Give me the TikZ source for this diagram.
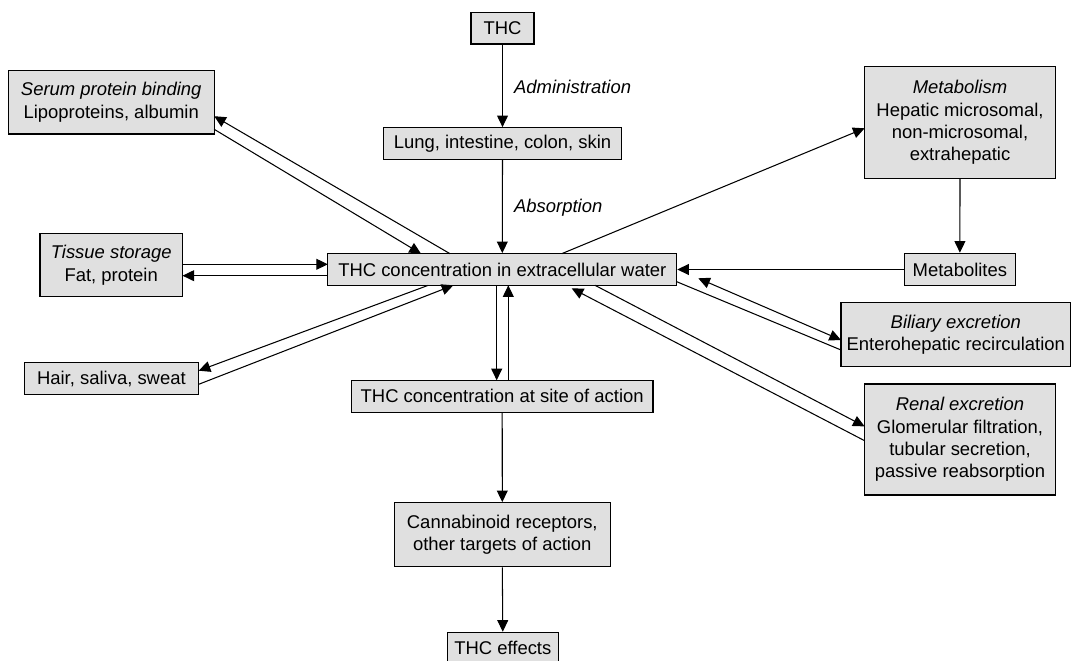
\documentclass[tikz,border=0pt]{standalone}
\usepackage{fontspec}
\setmainfont{Liberation Sans}
\usetikzlibrary{arrows.meta}
\definecolor{boxgray}{gray}{0.88}
\begin{document}
\begin{tikzpicture}[x=0.02cm,y=-0.02cm,
  box/.style={draw=black, line width=0.65pt, fill=boxgray, inner sep=0pt, align=center,
              font=\fontsize{10.5}{12.8}\selectfont},
  wh/.style 2 args={minimum width=#1*0.02cm, minimum height=#2*0.02cm},
  arr/.style={line width=0.6pt, -{Triangle[length=6.6pt,width=6.2pt]}},
  darr/.style={line width=0.6pt, {Triangle[length=6.6pt,width=6.2pt]}-{Triangle[length=6.6pt,width=6.2pt]}},
  plain/.style={line width=0.6pt},
  lbl/.style={font=\fontsize{10.5}{12.8}\selectfont\itshape, anchor=west, inner sep=0pt}]
\useasboundingbox (0,0) rectangle (1072,661);

% nodes
\node[box, wh={63}{31.3}]    (thc)    at (502.5,28.3)  {THC};
\node[box, wh={238.3}{31.6}] (lung)   at (502.5,143.5) {Lung, intestine, colon, skin};
\node[box, wh={348.8}{31.6}] (ecw)    at (502.3,269.5) {THC concentration in extracellular water};
\node[box, wh={205.9}{63.3}] (serum)  at (111.2,102.3) {\textit{Serum protein binding}\\Lipoproteins, albumin};
\node[box, wh={142.5}{63.4}] (tissue) at (111.2,265)   {\textit{Tissue storage}\\Fat, protein};
\node[box, wh={174.6}{32}]   (hair)   at (111.4,378.7) {Hair, saliva, sweat};
\node[box, wh={301.7}{32}]   (site)   at (502.2,396.3) {THC concentration at site of action};
\node[box, wh={215.9}{64}]   (cann)   at (502.3,534.7) {Cannabinoid receptors,\\other targets of action};
\node[box, wh={111}{32}]     (eff)    at (502.8,648.3) {THC effects};
\node[box, wh={190.8}{111.6}] (metab) at (960,122.5)   {\textit{Metabolism}\\Hepatic microsomal,\\non-microsomal,\\extrahepatic};
\node[box, wh={110.9}{32.4}] (mets)   at (959.9,269.5) {Metabolites};
\node[box, wh={229.7}{64}]   (bil)    at (955.8,334.7) {\textit{Biliary excretion}\\Enterohepatic recirculation};
\node[box, wh={190.8}{111}]  (ren)    at (960,439.5)   {\textit{Renal excretion}\\Glomerular filtration,\\tubular secretion,\\passive reabsorption};

\node[lbl] (adm) at (513.8,87.3)  {Administration};
\node[lbl] (abs) at (513.8,207.3) {Absorption};

% connector end points
\coordinate (s1a) at (450,253.7);   \coordinate (s1b) at (214.2,116.2);
\coordinate (s2a) at (214.2,129.3); \coordinate (s2b) at (421,253.7);
\coordinate (t1a) at (182.5,264.3); \coordinate (t1b) at (327.9,264.3);
\coordinate (t2a) at (327.9,275.7); \coordinate (t2b) at (182.5,275.7);
\coordinate (h1a) at (428.3,285.3); \coordinate (h1b) at (198.7,370.7);
\coordinate (h2a) at (198.7,384.3); \coordinate (h2b) at (453.3,285.3);
\coordinate (c1a) at (496.7,285.3); \coordinate (c1b) at (496.7,380.3);
\coordinate (c2a) at (508.3,380.3); \coordinate (c2b) at (508.3,285.3);
\coordinate (m1a) at (561.7,253.7); \coordinate (m1b) at (864.6,128.3);
\coordinate (b1a) at (698.3,278.3); \coordinate (b1b) at (841,340);
\coordinate (b2a) at (676.7,281.7); \coordinate (b2b) at (841,350);
\coordinate (r1a) at (595,285.3);   \coordinate (r1b) at (864.6,426.4);
\coordinate (r2a) at (864.6,440.7); \coordinate (r2b) at (571.7,288.3);

% connectors
\draw[arr] (thc.south) -- (lung.north);
\draw[arr] (lung.south) -- (ecw.north);
\draw[arr] (s1a) -- (s1b);
\draw[arr] (s2a) -- (s2b);
\draw[arr] (t1a) -- (t1b);
\draw[arr] (t2a) -- (t2b);
\draw[arr] (h1a) -- (h1b);
\draw[arr] (h2a) -- (h2b);
\draw[arr] (c1a) -- (c1b);
\draw[arr] (c2a) -- (c2b);
\draw[arr] (site.south) -- (cann.north);
\draw[arr] (cann.south) -- (eff.north);
\draw[arr] (m1a) -- (m1b);
\draw[arr] (metab.south) -- (mets.north);
\draw[arr] (mets.west) -- (ecw.east);
\draw[darr] (b1a) -- (b1b);
\draw[plain] (b2a) -- (b2b);
\draw[arr] (r1a) -- (r1b);
\draw[arr] (r2a) -- (r2b);
\end{tikzpicture}
\end{document}
